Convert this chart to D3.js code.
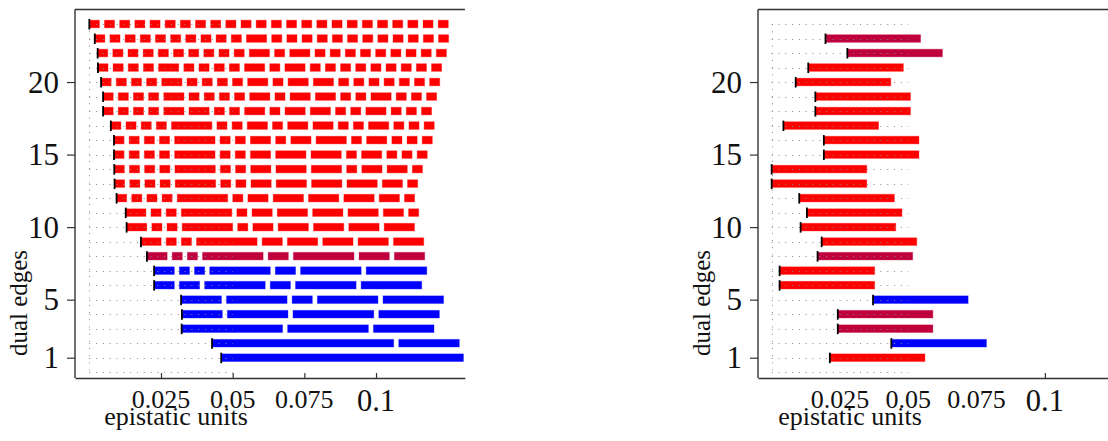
<!DOCTYPE html>
<html>
<head>
<meta charset="utf-8">
<script src="https://cdn.jsdelivr.net/npm/d3@7/dist/d3.min.js"></script>
<style>
  html, body { margin: 0; padding: 0; background: #fff; }
  svg { display: block; }
  text { font-family: "Liberation Serif", "Times New Roman", serif; fill: #111; }
</style>
</head>
<body>
<svg id="chart" width="1108" height="441"></svg>
<script>
// ---- data ---------------------------------------------------------------
// dual edge index (rows, bottom to top)
const edges = [1,2,3,4,5,6,7,8,9,10,11,12,13,14,15,16,17,18,19,20,21,22,23,24];

// left panel: where each row's block chain begins (epistatic units)
const leftStart = [0.0460, 0.0428, 0.0322, 0.0323, 0.0320, 0.0226, 0.0226, 0.0201,
                   0.0180, 0.0130, 0.0127, 0.0095, 0.0088, 0.0087, 0.0086, 0.0086,
                   0.0075, 0.0048, 0.0048, 0.0041, 0.0030, 0.0029, 0.0019, 0.0000];

// left panel: block sizes (in units) of each row, 24 units split into `edge` blocks
const leftBlocks = [
  [24],
  [18,6],
  [10,8,6],
  [4,6,8,6],
  [4,6,2,6,6],
  [2,2,6,2,6,6],
  [2,1,1,6,2,6,6],
  [2,1,1,6,2,6,3,3],
  [2,1,1,6,2,3,3,3,3],
  [2,1,1,5,1,2,3,3,3,3],
  [2,1,1,5,1,2,3,3,3,2,1],
  [1,1,1,1,5,1,2,3,3,3,2,1],
  [1,1,1,1,4,1,1,2,3,3,3,2,1],
  [1,1,1,1,4,1,1,2,3,3,1,2,2,1],
  [1,1,1,1,4,1,1,2,3,3,1,2,1,1,1],
  [1,1,1,1,4,1,1,2,1,2,3,1,2,1,1,1],
  [1,1,1,1,4,1,1,2,1,2,2,1,1,2,1,1,1],
  [1,1,1,1,2,2,1,1,2,1,2,2,1,1,2,1,1,1],
  [1,1,1,1,2,1,1,1,1,2,1,2,2,1,1,2,1,1,1],
  [1,1,1,1,2,1,1,1,1,2,1,2,2,1,1,1,1,1,1,1],
  [1,1,1,1,2,1,1,1,1,2,1,2,1,1,1,1,1,1,1,1,1],
  [1,1,1,1,1,1,1,1,1,1,2,1,2,1,1,1,1,1,1,1,1,1],
  [1,1,1,1,1,1,1,1,1,1,2,1,1,1,1,1,1,1,1,1,1,1,1],
  [1,1,1,1,1,1,1,1,1,1,1,1,1,1,1,1,1,1,1,1,1,1,1,1]
];
const leftKind = ["b","b","b","b","b","b","b","m","r","r","r","r","r","r","r","r",
                  "r","r","r","r","r","r","r","r"];

// right panel: start of each row's bar (row 24 has none)
const rightStart = [0.0213, 0.0438, 0.0242, 0.0242, 0.0371, 0.0029, 0.0029, 0.0168,
                    0.0183, 0.0106, 0.0129, 0.0101, 0.0000, 0.0000, 0.0191, 0.0191,
                    0.0043, 0.0160, 0.0160, 0.0088, 0.0134, 0.0277, 0.0197, null];
const rightKind = ["r","b","m","m","b","r","r","m","r","r","r","r","r","r","r","r",
                   "r","r","r","r","r","m","m",null];

const blockUnit = 0.00352;   // one unit block
const blockGap = 0.00177;    // space between blocks
const rightLength = 0.0348;  // length of every right-panel bar

const xTicks = [0.025, 0.05, 0.075, 0.1];
const xTickLabels = ["0.025", "0.05", "0.075", "0.1"];
const yTicks = [1, 5, 10, 15, 20];
const gridRows = [0,1,2,3,4,5,6,7,8,9,10,11,12,13,14,15,16,17,18,19,20,21,22,23,24];
const gridSpan = [0, 0.05];
const xLabel = "epistatic units";
const yLabel = "dual edges";

// ---- drawing ------------------------------------------------------------
const palette = { r: "#ff0000", b: "#0000ff", m: "#c0003c" };
const svg = d3.select("#chart");

const xDomain = [-0.005, 0.131];
const y = d3.scaleLinear().domain([-0.4, 25]).range([378, 9.5]);

function panel(x, opts) {
  const g = svg.append("g");
  const [x0, x1] = x.range();
  const top = y.range()[1], bottom = y.range()[0];

  // bars
  const bars = g.append("g");
  opts.marks.forEach(m => {
    m.segs.forEach(s => {
      bars.append("rect")
        .attr("x", x(s[0]))
        .attr("y", y(m.row) - 3.8)
        .attr("width", x(s[1]) - x(s[0]))
        .attr("height", 7.6)
        .attr("fill", palette[m.kind])
        .attr("stroke", palette[m.kind])
        .attr("stroke-opacity", 0.35)
        .attr("stroke-width", 1);
    });
  });

  // dotted reference grid
  const grid = g.append("g").attr("stroke", "#8a8a8a").attr("stroke-width", 1)
    .attr("fill", "none");
  gridRows.forEach(r => {
    grid.append("line")
      .attr("x1", x(gridSpan[0])).attr("x2", x(gridSpan[1]))
      .attr("y1", Math.round(y(r)) + 0.5).attr("y2", Math.round(y(r)) + 0.5)
      .attr("stroke-dasharray", "1,5.8");
  });
  grid.append("line")
    .attr("x1", Math.round(x(0)) + 0.5).attr("x2", Math.round(x(0)) + 0.5)
    .attr("y1", y(24)).attr("y2", y(0))
    .attr("stroke-dasharray", "1,6.2");

  // start markers
  const ticks = g.append("g").attr("stroke", "#000").attr("stroke-width", 1.8);
  opts.marks.forEach(m => {
    const sx = x(m.segs[0][0]);
    ticks.append("line")
      .attr("x1", sx).attr("x2", sx)
      .attr("y1", y(m.row) - 5).attr("y2", y(m.row) + 5.5);
  });

  // frame
  const frame = g.append("g").attr("stroke", "#333").attr("stroke-width", 1.4).attr("fill", "none");
  frame.append("line").attr("x1", x0).attr("x2", x1).attr("y1", top).attr("y2", top);
  frame.append("line").attr("x1", x0).attr("x2", x0).attr("y1", top).attr("y2", bottom);

  // x axis
  const xa = g.append("g").attr("transform", `translate(0,${bottom})`)
    .call(d3.axisBottom(x).tickValues(opts.xTicks)
      .tickFormat((d, i) => xTickLabels[xTicks.indexOf(d)])
      .tickSizeInner(-5).tickSizeOuter(0));
  xa.select(".domain").attr("stroke", "#333").attr("stroke-width", 1.4);
  xa.selectAll(".tick line").attr("stroke", "#333").attr("stroke-width", 1.2);
  xa.selectAll(".tick text").remove();
  xTicks.forEach((v, i) => {
    const big = v === 0.1;
    g.append("text")
      .attr("x", x(v)).attr("y", big ? 410.5 : 408)
      .attr("text-anchor", "middle")
      .attr("font-size", big ? 30.5 : 26)
      .text(xTickLabels[i]);
  });

  // y axis
  const ya = g.append("g").attr("transform", `translate(${x0},0)`)
    .call(d3.axisLeft(y).tickValues(yTicks).tickSizeInner(8).tickSizeOuter(0)
      .tickFormat(d3.format("d")));
  ya.select(".domain").remove();
  ya.selectAll(".tick line").attr("stroke", "#333").attr("stroke-width", 1.2);
  ya.selectAll(".tick text")
    .attr("x", -16).attr("dy", "0.33em")
    .attr("font-size", 31).attr("fill", "#111")
    .attr("font-family", "Liberation Serif, Times New Roman, serif");

  // axis titles
  g.append("text")
    .attr("x", opts.xLabelX).attr("y", 425)
    .attr("text-anchor", "middle").attr("font-size", 26)
    .text(xLabel);
  g.append("text")
    .attr("transform", `translate(${x0 - 48},303) rotate(-90)`)
    .attr("text-anchor", "middle").attr("font-size", 25)
    .text(yLabel);
}

// left panel: chains of unit blocks
const xL = d3.scaleLinear().domain(xDomain).range([75, 464.9]);
const leftMarks = edges.map((row, i) => {
  let cur = leftStart[i];
  const segs = leftBlocks[i].map(n => {
    const s = [cur, cur + n * blockUnit];
    cur += n * blockUnit + blockGap;
    return s;
  });
  return { row, kind: leftKind[i], segs };
});
panel(xL, { marks: leftMarks, xTicks: xTicks, xLabelX: 176 });

// right panel: one bar per row
const xR = d3.scaleLinear().domain(xDomain).range([758, 1129.6]);
const rightMarks = edges
  .map((row, i) => ({ row, kind: rightKind[i], start: rightStart[i] }))
  .filter(d => d.start !== null)
  .map(d => ({ row: d.row, kind: d.kind, segs: [[d.start, d.start + rightLength]] }));
panel(xR, { marks: rightMarks, xTicks: [0.1], xLabelX: 850 });
</script>
</body>
</html>
